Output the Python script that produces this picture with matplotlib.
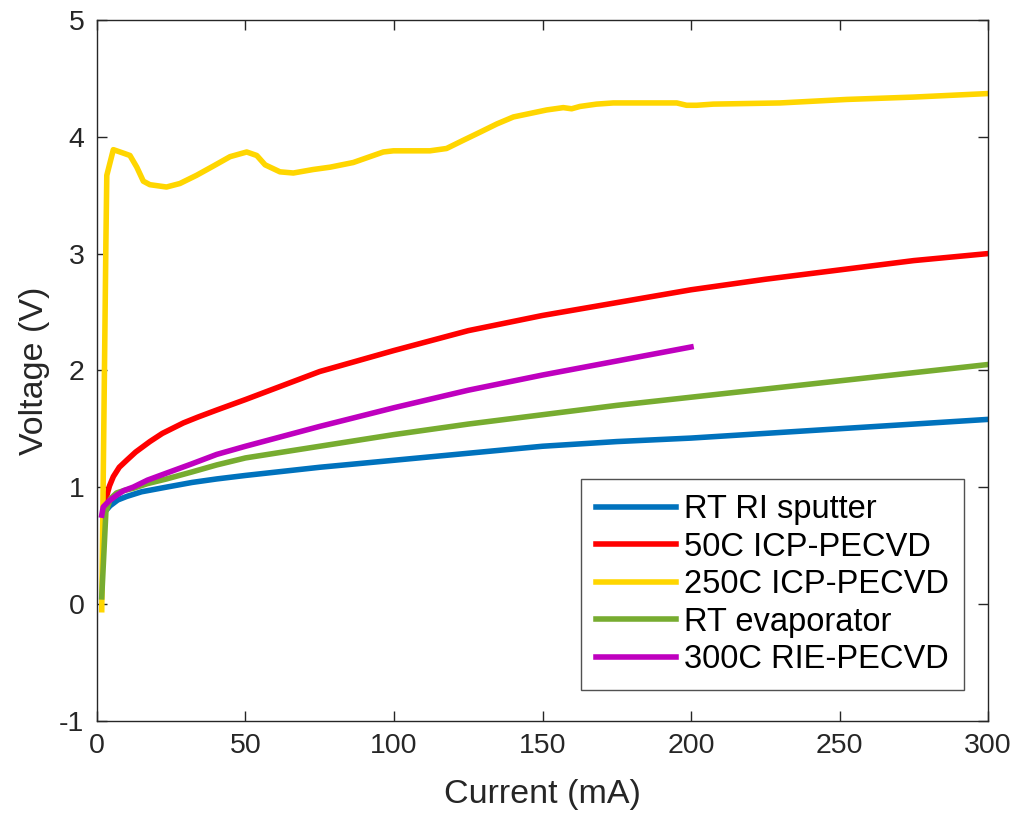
import matplotlib as mpl
mpl.use('Agg')
import matplotlib.pyplot as plt

plt.rcParams['font.family'] = ['Liberation Sans', 'DejaVu Sans']
plt.rcParams['axes.unicode_minus'] = False

# RT RI sputter
blue_x = [2.7, 4.4, 7, 10, 15, 23.4, 32, 40.3, 50, 75, 100, 125, 150, 175, 200, 225, 250, 275, 300]
blue_y = [0.79, 0.84, 0.89, 0.92, 0.96, 1.00, 1.04, 1.07, 1.10, 1.17, 1.23, 1.29, 1.35, 1.39,
          1.42, 1.46, 1.50, 1.54, 1.58]

# 50C ICP-PECVD
red_x = [3.0, 4.2, 5.5, 7.5, 10, 13, 17.8, 22, 29.1, 34, 40.3, 50, 75, 100, 125, 150, 175,
         200, 225, 250, 275, 300]
red_y = [0.90, 1.01, 1.09, 1.17, 1.23, 1.30, 1.39, 1.46, 1.55, 1.60, 1.66, 1.75, 1.99, 2.17,
         2.34, 2.47, 2.58, 2.69, 2.78, 2.86, 2.94, 3.00]

# 250C ICP-PECVD
yel_x = [1.6, 3.0, 3.3, 5.5, 8.9, 11.1, 13.4, 15.6, 17.8, 23.4, 27.9, 33.5, 39.2,
         44.8, 50.4, 53.8, 56.6, 61.6, 66.1, 72.8, 78.5, 86.3, 91.9, 96.4, 99.8,
         104.3, 112.1, 117.7, 123.3, 129.0, 134.6, 140.2, 145.8, 151.4, 157.0,
         159.8, 162.6, 168.2, 173.8, 185.1, 195.2, 198.5, 201.9, 207.5, 230.0,
         252.4, 274.8, 299.6]
yel_y = [-0.05, 3.10, 3.67, 3.89, 3.86, 3.84, 3.74, 3.62, 3.59, 3.57, 3.60, 3.67, 3.75,
         3.83, 3.87, 3.84, 3.76, 3.70, 3.69, 3.72, 3.74, 3.78, 3.83, 3.87, 3.88,
         3.88, 3.88, 3.90, 3.97, 4.04, 4.11, 4.17, 4.20, 4.23, 4.25,
         4.24, 4.26, 4.28, 4.29, 4.29, 4.29, 4.27, 4.27, 4.28, 4.29,
         4.32, 4.34, 4.37]

# RT evaporator
grn_x = [1.6, 3.0, 4.5, 6.6, 9, 12.2, 17, 23.4, 32, 40.3, 50, 75, 100, 125, 150, 175, 200,
         225, 250, 275, 300]
grn_y = [0.06, 0.79, 0.90, 0.95, 0.97, 0.99, 1.03, 1.07, 1.13, 1.19, 1.25, 1.35, 1.45, 1.54,
         1.62, 1.70, 1.77, 1.84, 1.91, 1.98, 2.05]

# 300C RIE-PECVD
pur_x = [1.6, 2.1, 4, 6.6, 9, 12.2, 17, 23.4, 32, 40.3, 50, 75, 100, 125, 150, 175, 200]
pur_y = [0.76, 0.83, 0.88, 0.93, 0.97, 1.00, 1.06, 1.12, 1.20, 1.28, 1.35, 1.52, 1.68, 1.83,
         1.96, 2.08, 2.20]

txt = '#262626'
fig = plt.figure(figsize=(10.21, 8.18), dpi=100)
ax = fig.add_axes([0.095, 0.119, 0.8727, 0.8565])

lw = 4
ax.plot(blue_x, blue_y, color=(0, 0.447, 0.741), lw=lw, label='RT RI sputter')
ax.plot(red_x, red_y, color=(1, 0, 0), lw=lw, label='50C ICP-PECVD')
ax.plot(yel_x, yel_y, color=(1, 0.84, 0), lw=lw, label='250C ICP-PECVD')
ax.plot(grn_x, grn_y, color=(0.466, 0.674, 0.188), lw=lw, label='RT evaporator')
ax.plot(pur_x, pur_y, color=(0.75, 0, 0.75), lw=lw, label='300C RIE-PECVD')

ax.set_xlim(0, 300)
ax.set_ylim(-1, 5)
ax.set_xticks(range(0, 301, 50))
ax.set_yticks(range(-1, 6))
ax.tick_params(direction='in', length=7, width=1, top=True, right=True,
               labelsize=20.5, colors=txt, pad=9)
for s in ax.spines.values():
    s.set_color(txt)
    s.set_linewidth(1)

ax.set_xlabel('Current (mA)', fontsize=24.5, color=txt, labelpad=14)
ax.set_ylabel('Voltage (V)', fontsize=24.5, color=txt, labelpad=7)

leg = ax.legend(loc='lower right', bbox_to_anchor=(0.973, 0.044), fontsize=23.5,
                frameon=True, fancybox=False, handlelength=2.45, handletextpad=0.25,
                borderpad=0.45, labelspacing=0.2, borderaxespad=0)
leg.get_frame().set_edgecolor(txt)
leg.get_frame().set_linewidth(1)
for t in leg.get_texts():
    t.set_color('black')

plt.savefig('out.png', dpi=100)
